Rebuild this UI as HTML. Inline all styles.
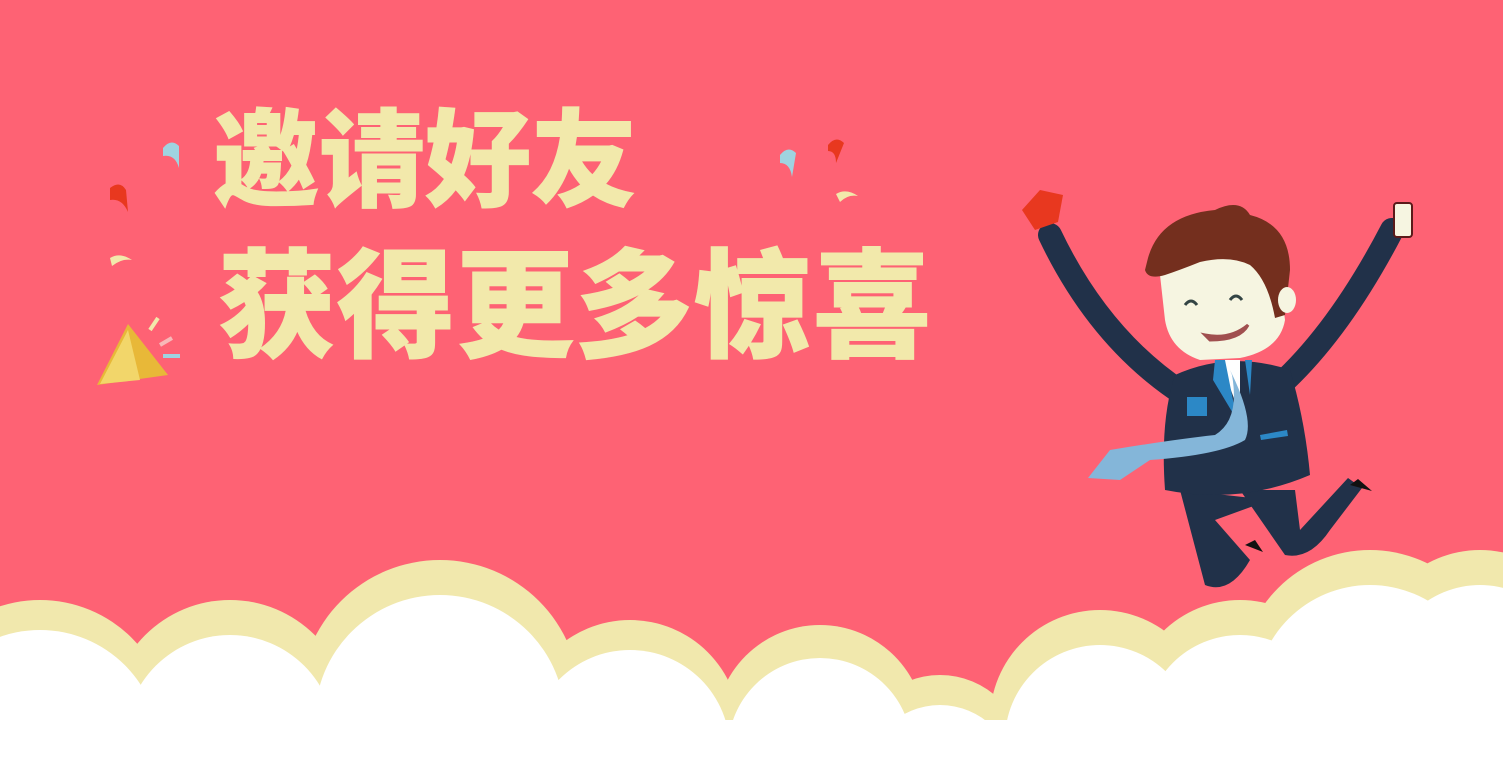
<!DOCTYPE html>
<html><head><meta charset="utf-8"><style>
html,body{margin:0;padding:0;width:1503px;height:772px;overflow:hidden;background:#fe6274}
svg{display:block;overflow:hidden}
</style></head><body>
<svg width="1503" height="772" viewBox="0 0 1503 772">
<rect width="1503" height="772" fill="#fe6274"/>
<g font-family="'Liberation Sans','Noto Sans CJK SC','WenQuanYi Zen Hei',sans-serif" font-weight="900" fill="#f2e9ab">
<text x="213" y="198" font-size="106" stroke="#f2e9ab" stroke-width="1">邀请好友</text>
<text x="218" y="348" font-size="118" letter-spacing="1" stroke="#f2e9ab" stroke-width="1">获得更多惊喜</text>
</g>
<g>
<path d="M110 188 q10 -8 16 2 l2 22 q-6 -14 -18 -12z" fill="#e8381f"/>
<path d="M163 148 q8 -10 16 -2 l0 22 q-4 -14 -16 -12z" fill="#9fd3e0"/>
<path d="M110 258 q10 -6 22 2 q-10 -2 -20 6z" fill="#f2e9ab"/>
<path d="M780 155 q8 -10 16 -2 l-4 24 q-2 -14 -12 -14z" fill="#9fd3e0"/>
<path d="M828 145 q8 -10 16 -2 l-8 20 q0 -12 -8 -12z" fill="#e8381f"/>
<path d="M836 194 q10 -6 22 2 q-10 -2 -18 6z" fill="#f2e9ab"/>
<path d="M97 385 L128 324 L168 375 Z" fill="#e8b838"/>
<path d="M100 384 L128 330 L140 380 Z" fill="#f2d66a"/>
<line x1="150" y1="330" x2="158" y2="318" stroke="#f2e9ab" stroke-width="4"/>
<line x1="160" y1="345" x2="172" y2="338" stroke="#f7b8b8" stroke-width="4"/>
<line x1="163" y1="356" x2="180" y2="356" stroke="#9fd3e0" stroke-width="4"/>
</g>
<g>
<path d="M1050 235 Q1100 340 1185 395" stroke="#213149" stroke-width="24" fill="none" stroke-linecap="round"/>
<path d="M1392 230 Q1340 330 1280 385" stroke="#213149" stroke-width="24" fill="none" stroke-linecap="round"/>
<path d="M1180 490 L1205 585 Q1230 595 1250 560 L1215 520 L1270 500Z" fill="#213149"/>
<path d="M1240 490 L1285 555 Q1310 560 1330 530 L1362 488 L1348 478 L1300 530 L1295 490Z" fill="#213149"/>
<path d="M1175 375 Q1230 350 1290 370 Q1305 420 1310 475 Q1240 505 1165 490 Q1160 420 1175 375Z" fill="#213149"/>
<path d="M1220 360 L1240 360 L1240 415 Z" fill="#ffffff"/>
<path d="M1215 360 L1225 360 L1237 420 L1213 380Z M1245 360 L1252 360 L1250 395Z" fill="#2c88c6"/>
<rect x="1187" y="397" width="20" height="19" fill="#2c88c6"/>
<path d="M1260 435 L1287 430 L1288 436 L1261 440Z" fill="#2c88c6"/>
<path d="M1230 370 Q1255 420 1245 440 Q1220 455 1150 460 L1120 480 L1088 478 L1110 450 Q1170 440 1215 435 Q1240 420 1232 375Z" fill="#84b6d9"/>
<path d="M1160 275 Q1165 255 1200 255 Q1250 245 1280 280 L1285 320 Q1280 350 1240 358 L1200 360 Q1170 350 1165 320Z" fill="#f6f5e1"/>
<path d="M1148 258 Q1160 215 1215 210 Q1240 198 1250 215 Q1290 225 1290 270 L1285 315 L1275 318 Q1268 280 1250 265 Q1230 255 1200 262 Q1180 270 1165 275 Q1148 280 1145 270Z" fill="#742f1e"/>
<ellipse cx="1287" cy="300" rx="9" ry="13" fill="#f6f5e1"/>
<path d="M1185 305 q6 -8 12 0 M1230 300 q6 -8 12 0" stroke="#344" stroke-width="3" fill="none"/>
<path d="M1205 335 Q1230 340 1248 325 Q1240 340 1210 340Z" fill="#a04f4f" stroke="#a04f4f" stroke-width="3"/>
<path d="M1022 210 L1040 190 L1063 195 L1058 222 L1035 230Z" fill="#e8381f"/>
<rect x="1394" y="203" width="18" height="34" rx="3" fill="#f6f5e1" stroke="#5a1a1a" stroke-width="2"/>
<path d="M1245 545 l10 -5 l8 12z M1350 485 l8 -6 l14 12z" fill="#111"/>
</g>
<g>
<g fill="#f1e8ad">
<circle cx="40" cy="730" r="130"/><circle cx="230" cy="720" r="120"/><circle cx="440" cy="700" r="140"/>
<circle cx="630" cy="730" r="110"/><circle cx="820" cy="730" r="105"/><circle cx="940" cy="760" r="85"/>
<circle cx="1100" cy="720" r="110"/><circle cx="1240" cy="710" r="110"/><circle cx="1370" cy="680" r="130"/>
<circle cx="1480" cy="660" r="110"/>
</g>
<g fill="#ffffff">
<circle cx="40" cy="750" r="120"/><circle cx="230" cy="740" r="105"/><circle cx="440" cy="720" r="125"/>
<circle cx="630" cy="750" r="100"/><circle cx="820" cy="750" r="92"/><circle cx="940" cy="780" r="75"/>
<circle cx="1100" cy="740" r="95"/><circle cx="1240" cy="730" r="95"/><circle cx="1370" cy="700" r="115"/>
<circle cx="1480" cy="680" r="95"/>
<rect x="0" y="720" width="1503" height="52"/>
</g>
</g>
</svg>
</body></html>
